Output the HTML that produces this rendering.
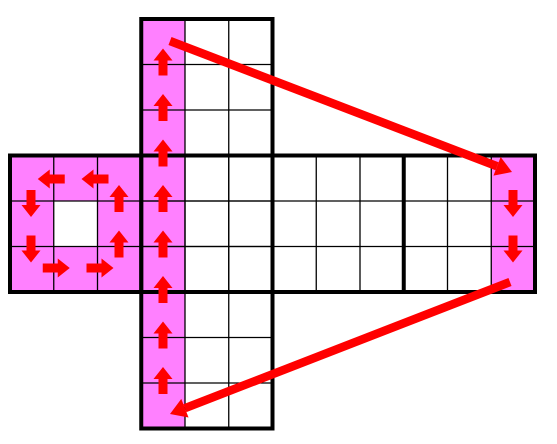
<!DOCTYPE html>
<html><head><meta charset="utf-8"><style>html,body{margin:0;padding:0;background:#fff;width:557px;height:444px;overflow:hidden}</style></head>
<body>
<svg id="net" width="557" height="444" viewBox="0 0 557 444" xmlns="http://www.w3.org/2000/svg"></svg>
<script>
// grid lines
const colX = [10,53.75,97.5,141.25,185,228.75,272.5,316.25,360,403.75,447.5,491.25,535];
const rowY = [19,64.5,110,155.5,201,246.5,292,337.5,383,428.5];
// pink cells [col,row]
const pinkCells = [[3,0],[3,1],[3,2],[3,3],[3,4],[3,5],[3,6],[3,7],[3,8],
  [0,3],[1,3],[2,3],[0,4],[2,4],[0,5],[1,5],[2,5],[11,3],[11,4],[11,5]];
// small arrows: [x, y, angle(0=up,90=right,180=down,270=left)]
const arrows = [
  [163,64.5,0],[163,110,0],[163,155.5,0],[163,201,0],[163,246.5,0],[163,292,0],[163,337.5,0],[163,383,0],
  [53.75,179,270],[97.5,179,270],[31,201,180],[31,246.5,180],[53.75,268,90],[97.5,268,90],
  [119,201,0],[119,246.5,0],[513,201,180],[513,246.5,180]
];
const bigArrows = [[170,41,512,172],[510,282,170,414]];
const NS='http://www.w3.org/2000/svg';
const svg=document.getElementById('net');
function mk(t,a){const e=document.createElementNS(NS,t);for(const k in a)e.setAttribute(k,a[k]);svg.appendChild(e);return e;}
pinkCells.forEach(([c,r])=>{
  const e=mk('rect',{x:colX[c],y:rowY[r],width:colX[c+1]-colX[c],height:rowY[r+1]-rowY[r],fill:'#ff80ff'});
  
  
});
// thin grid lines: vertical strip (cols 3-6, rows 0-9) and horizontal band (cols 0-12, rows 3-6)
function thin(x1,y1,x2,y2){const e=mk('line',{x1,y1,x2,y2,stroke:'#000','stroke-width':1.3});
  
  }
for(let c=4;c<6;c++)thin(colX[c],rowY[0],colX[c],rowY[9]);
for(let r=1;r<9;r++)thin(colX[3],rowY[r],colX[6],rowY[r]);
for(let c=1;c<12;c++)thin(colX[c],rowY[3],colX[c],rowY[6]);
for(let r=4;r<6;r++)thin(colX[0],rowY[r],colX[12],rowY[r]);
// thick borders
function thick(x,y,w,h){const e=mk('rect',{x,y,width:w,height:h,fill:'none',stroke:'#000','stroke-width':4});
  
  }
thick(colX[3],rowY[0],colX[6]-colX[3],rowY[9]-rowY[0]);
thick(colX[0],rowY[3],colX[12]-colX[0],rowY[6]-rowY[3]);
thick(colX[3],rowY[3],colX[6]-colX[3],rowY[6]-rowY[3]);
thick(colX[9],rowY[3],colX[12]-colX[9],rowY[6]-rowY[3]);
arrows.forEach(([x,y,a])=>{
  const e=mk('polygon',{points:'0,-16 9.5,-4 4.5,-4 4.5,11 -4.5,11 -4.5,-4 -9.5,-4',fill:'#ff0000',transform:`translate(${x},${y}) rotate(${a})`});
  
  
});
bigArrows.forEach(([x1,y1,x2,y2])=>{
  const dx=x2-x1,dy=y2-y1,L=Math.hypot(dx,dy),ux=dx/L,uy=dy/L,hl=16;
  const bx=x2-ux*hl,by=y2-uy*hl;
  const l=mk('line',{x1,y1,x2:bx,y2:by,stroke:'#ff0000','stroke-width':8.5});
  
  
  const px=-uy,py=ux,w=10;
  const p=mk('polygon',{points:`${x2},${y2} ${bx+px*w},${by+py*w} ${bx-px*w},${by-py*w}`,fill:'#ff0000'});
  
  
});
</script>
</body></html>
